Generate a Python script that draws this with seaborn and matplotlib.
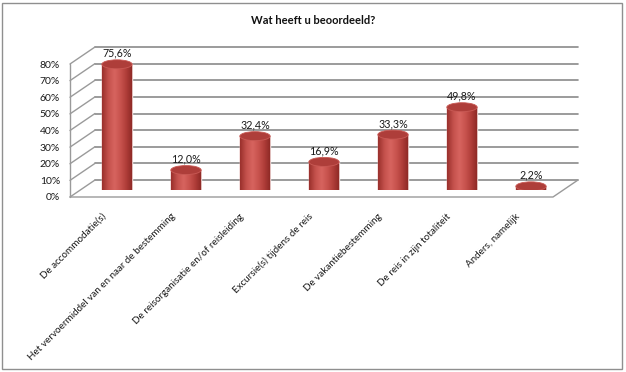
import matplotlib
matplotlib.use("Agg")
import matplotlib.pyplot as plt
import seaborn as sns
import numpy as np
from matplotlib.patches import Ellipse, Rectangle, PathPatch
from matplotlib.path import Path
from matplotlib.lines import Line2D
from matplotlib.colors import LinearSegmentedColormap

# ---- data ----
title = "Wat heeft u beoordeeld?"
categories = [
    "De accommodatie(s)",
    "Het vervoermiddel van en naar de bestemming",
    "De reisorganisatie en/of reisleiding",
    "Excursie(s) tijdens de reis",
    "De vakantiebestemming",
    "De reis in zijn totaliteit",
    "Anders, namelijk",
]
values = [75.6, 12.0, 32.4, 16.9, 33.3, 49.8, 2.2]
y_ticks = [0, 10, 20, 30, 40, 50, 60, 70, 80]
y_tick_labels = [f"{t}%" for t in y_ticks]

# ---- style ----
sns.set_style("white")
plt.rcParams["font.family"] = ["Lato", "DejaVu Sans"]

W, H = 626, 372
fig = plt.figure(figsize=(W / 100, H / 100), dpi=100)
fig.patch.set_facecolor("white")

S = 133 / 80.0  # pixels per percent


def px_axes(left, zero_y, width, height, z):
    return fig.add_axes([left / W, (H - zero_y) / H, width / W, height / H], zorder=z)


back = px_axes(95, 180, 483, 133, 0)
bars = px_axes(82.5, 190, 483, 133, 1)
front = px_axes(70, 197, 483, 133, 2)

for a in (back, bars, front):
    a.patch.set_alpha(0)
    for s in a.spines.values():
        s.set_visible(False)

# ---- back wall gridlines ----
back.set_xlim(-0.5, 6.5)
back.set_ylim(0, 80)
for t in y_ticks:
    back.axhline(t, color="#8a8a8a", lw=1.2, clip_on=False)
back.set_xticks([])
back.set_yticks([])


def fline(xs, ys, color="#9a9a9a", lw=1.0):
    ln = Line2D([x / W for x in xs], [(H - y) / H for y in ys],
                transform=fig.transFigure, color=color, lw=lw, clip_on=False)
    back.add_line(ln)


# left wall
for t in y_ticks:
    fline([70, 95], [197 - t * S, 180 - t * S])
fline([70, 70], [197, 197 - 80 * S])
# floor
fline([70, 553, 578], [197, 197, 180])

# ---- bars ----
sns.barplot(x=categories, y=values, ax=bars, color="#C0504D", width=0.44, saturation=1)

cmap = LinearSegmentedColormap.from_list(
    "cyl", ["#9A302C", "#C4514C", "#D7645F", "#C8534E", "#AE3C38", "#8A2723"])
grad = np.linspace(0, 1, 64).reshape(1, -1)
ell_h = 9 / S

for patch, v in zip(list(bars.patches), values):
    x0 = patch.get_x()
    w = patch.get_width()
    cx = x0 + w / 2
    tt = np.linspace(np.pi, 2 * np.pi, 40)
    arc = np.column_stack([cx + w / 2 * np.cos(tt), ell_h / 2 * np.sin(tt)])
    verts = [(x0, v), (x0, 0)] + [tuple(p) for p in arc] + [(x0 + w, 0), (x0 + w, v), (x0, v)]
    body = PathPatch(Path(verts, closed=True), facecolor="#C0504D", edgecolor="none", zorder=2)
    bars.add_patch(body)
    im = bars.imshow(grad, cmap=cmap, extent=[x0, x0 + w, -ell_h / 2, v],
                     aspect="auto", zorder=3, interpolation="bicubic")
    im.set_clip_path(body)
    cap = Ellipse((cx, v), w, ell_h, facecolor="#AE3E3A", edgecolor="#C95A55",
                  lw=0.6, zorder=4)
    bars.add_patch(cap)
    bars.annotate(f"{v:.1f}%".replace(".", ","), (cx, v), xytext=(0, 4.0),
                  textcoords="offset points", ha="center", va="bottom",
                  fontsize=7.7, color="#1a1a1a", zorder=5, annotation_clip=False)

bars.set_xlim(-0.5, 6.5)
bars.set_ylim(0, 80)
bars.set_xlabel("")
bars.set_ylabel("")
bars.set_xticks([])
bars.set_yticks([])

# ---- front plane: tick labels ----
front.set_xlim(-0.5, 6.5)
front.set_ylim(0, 80)
front.set_yticks(y_ticks)
front.set_yticklabels(y_tick_labels, fontsize=7.5, color="#1a1a1a")
front.set_xticks(np.arange(len(categories)))
front.set_xticklabels(categories, rotation=45, ha="right", va="center",
                      rotation_mode="anchor", fontsize=7.1, color="#1a1a1a")
front.tick_params(axis="y", length=0, pad=7.2)
front.tick_params(axis="x", length=0, pad=13)

# ---- title & border ----
fig.text(313 / W, 1 - 20 / H, title, ha="center", va="center",
         fontweight="bold", fontsize=8, color="#111111")
fig.add_artist(Rectangle((2 / W, 3 / H), 620 / W, 366 / H, transform=fig.transFigure,
                         fill=False, edgecolor="#8f8f8f", lw=1))

fig.savefig("out.png", dpi=100)
